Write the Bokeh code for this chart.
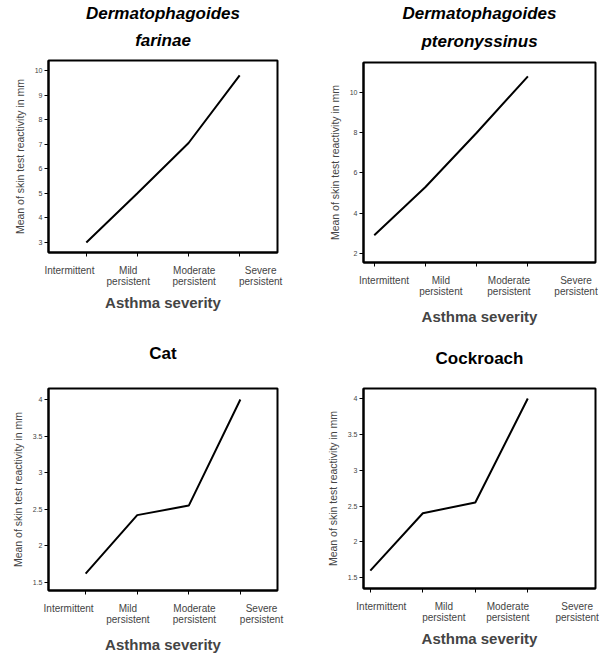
from bokeh.plotting import figure
from bokeh.models import FixedTicker, Range1d, Title
from bokeh.layouts import column, row
from bokeh.embed import file_html
from bokeh.resources import INLINE

categories = ["Intermittent", "Mild\npersistent", "Moderate\npersistent", "Severe\npersistent"]
cat_index = [0, 1, 2, 3]

df_values = [3.0, 5.0, 7.05, 9.8]
dp_values = [2.9, 5.3, 8.0, 10.8]
cat_values = [1.62, 2.42, 2.55, 4.0]
cockroach_values = [1.6, 2.4, 2.55, 4.0]

df_yticks = [3, 4, 5, 6, 7, 8, 9, 10]
dp_yticks = [2, 4, 6, 8, 10]
cat_yticks = [1.5, 2, 2.5, 3, 3.5, 4]
cockroach_yticks = [1.5, 2, 2.5, 3, 3.5, 4]

FONT = "Liberation Sans"


def fmt(v):
    return str(int(v)) if float(v).is_integer() else str(v)


def panel(title_lines, italic, values, yticks, yr, xr, w, h, borders, label_pos,
          title_standoff, xlabel_standoff=4):
    bl, br, bt, bb = borders
    p = figure(width=w, height=h, output_backend="svg", toolbar_location=None,
               x_range=Range1d(*xr), y_range=Range1d(*yr),
               min_border_left=bl, min_border_right=br, min_border_top=bt, min_border_bottom=bb)
    p.grid.visible = False
    p.outline_line_color = "black"
    p.outline_line_width = 2
    p.background_fill_color = "white"
    p.border_fill_color = "white"

    # title lines: innermost (closest to frame) first
    style = "bold italic" if italic else "bold"
    for i, txt in enumerate(reversed(title_lines)):
        t = Title(text=txt, align="center", text_font=FONT, text_font_size="17px",
                  text_font_style=style, text_color="black",
                  vertical_align="top" if i == 0 else "bottom",
                  standoff=title_standoff if i == 0 else 0)
        p.add_layout(t, "above")

    ax = p.xaxis[0]
    ax.ticker = FixedTicker(ticks=label_pos, minor_ticks=cat_index)
    ax.major_label_overrides = {lp: c for lp, c in zip(label_pos, categories)}
    ax.major_label_text_font = FONT
    ax.major_label_text_font_size = "10px"
    ax.major_label_text_line_height = 1.05
    ax.major_label_standoff = 6
    ax.major_tick_line_color = None
    ax.minor_tick_in = 0
    ax.minor_tick_out = 4
    ax.minor_tick_line_width = 1
    ax.minor_tick_line_color = "black"
    ax.axis_line_width = 2
    ax.axis_label = "Asthma severity"
    ax.axis_label_text_font = FONT
    ax.axis_label_text_font_size = "15px"
    ax.axis_label_text_font_style = "bold"
    ax.axis_label_standoff = xlabel_standoff

    ya = p.yaxis[0]
    ya.ticker = FixedTicker(ticks=yticks)
    ya.major_label_overrides = {t: fmt(t) for t in yticks}
    ya.major_label_text_font = FONT
    ya.major_label_text_font_size = "7px"
    ya.major_label_standoff = 2
    ya.major_tick_in = 0
    ya.major_tick_out = 4
    ya.minor_tick_line_color = None
    ya.axis_line_width = 2
    ya.axis_label = "Mean of skin test reactivity in mm"
    ya.axis_label_text_font = FONT
    ya.axis_label_text_font_size = "10.5px"
    ya.axis_label_text_font_style = "normal"
    ya.axis_label_standoff = 6

    p.line(cat_index, values, line_color="black", line_width=2)
    return p


# left column
p1 = panel(["Dermatophagoides", "farinae"], True, df_values, df_yticks,
           (2.59, 10.41), (-0.74, 3.74), 308, 318, (48, 31, 60, 66),
           [-0.33, 0.82, 2.11, 3.41], 17)
p3 = panel(["Cat"], False, cat_values, cat_yticks,
           (1.39, 4.15), (-0.72, 3.72), 308, 339, (48, 31, 70, 67),
           [-0.33, 0.82, 2.11, 3.41], 48, 8)
# right column
p2 = panel(["Dermatophagoides", "pteronyssinus"], True, dp_values, dp_yticks,
           (1.55, 11.49), (-0.21, 4.32), 299, 328, (55, 12, 62, 66),
           [0.19, 1.30, 2.63, 3.94], 19, 8)
p4 = panel(["Cockroach"], False, cockroach_values, cockroach_yticks,
           (1.35, 4.14), (-0.13, 4.29), 299, 329, (55, 12, 60, 69),
           [0.21, 1.40, 2.62, 3.94], 38)

layout = row(column(p1, p3), column(p2, p4))
open("out.html", "w").write(file_html(layout, INLINE))
